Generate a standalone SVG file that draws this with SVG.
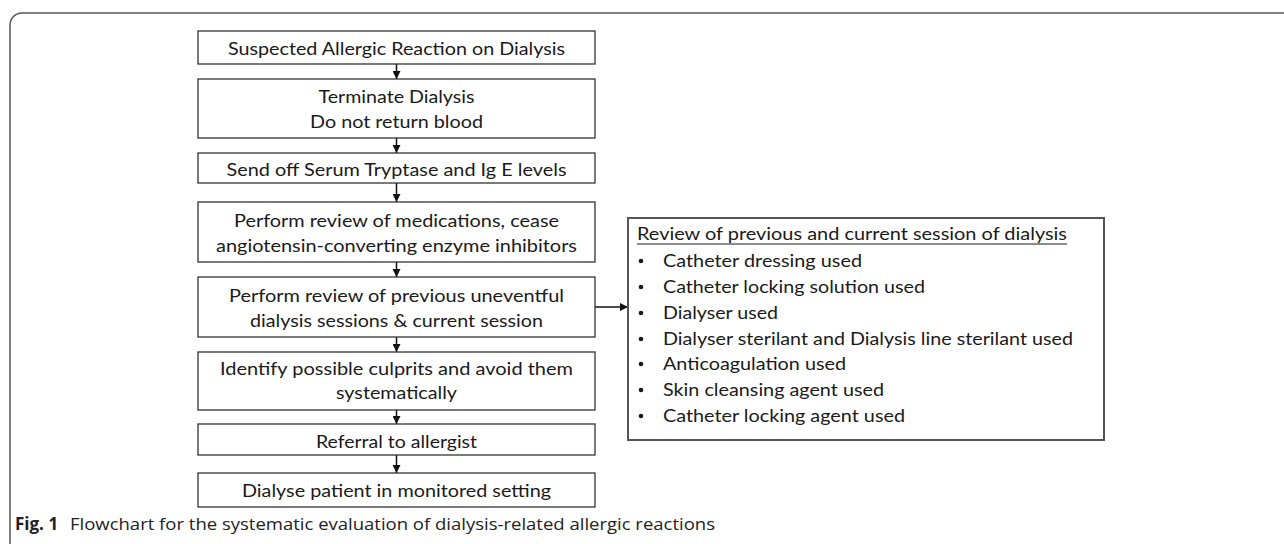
<svg xmlns="http://www.w3.org/2000/svg" width="1284" height="544" viewBox="0 0 1284 544">
<defs>
<marker id="ah" viewBox="0 0 8 8" refX="8" refY="4" markerWidth="8" markerHeight="8" markerUnits="userSpaceOnUse" orient="auto">
<path d="M0,0 L8,4 L0,8 z" fill="#111"/>
</marker>
<style>
.box{fill:#fff;stroke:#333;stroke-width:1.3}
.rbox{fill:#fff;stroke:#555;stroke-width:2}
.t{font-family:Lato,"Open Sans","Liberation Sans",sans-serif;font-size:18px;fill:#1a1a1a;text-anchor:middle}
.l{font-family:Lato,"Open Sans","Liberation Sans",sans-serif;font-size:18px;fill:#1a1a1a}
.c{stroke:#111;stroke-width:1.5;fill:none}
.cap{font-family:"Open Sans","Liberation Sans",sans-serif;font-size:17px;fill:#222}
</style>
</defs>
<rect x="0" y="0" width="1284" height="544" fill="#fff"/>
<path d="M1284,13 H22 A12,12 0 0 0 10,25 V544" fill="none" stroke="#555" stroke-width="1.5"/>

<g id="connectors">
<line class="c" x1="396.5" y1="64" x2="396.5" y2="79" marker-end="url(#ah)"/>
<line class="c" x1="396.5" y1="138" x2="396.5" y2="153" marker-end="url(#ah)"/>
<line class="c" x1="396.5" y1="183" x2="396.5" y2="202" marker-end="url(#ah)"/>
<line class="c" x1="396.5" y1="262" x2="396.5" y2="277" marker-end="url(#ah)"/>
<line class="c" x1="396.5" y1="337" x2="396.5" y2="352" marker-end="url(#ah)"/>
<line class="c" x1="396.5" y1="410" x2="396.5" y2="424" marker-end="url(#ah)"/>
<line class="c" x1="396.5" y1="455" x2="396.5" y2="473" marker-end="url(#ah)"/>
<line class="c" x1="595" y1="307" x2="628" y2="307" marker-end="url(#ah)"/>
</g>

<g id="n1"><rect class="box" x="198" y="31" width="397" height="33"/>
<text class="t" x="396.5" y="54.5" textLength="337" lengthAdjust="spacingAndGlyphs">Suspected Allergic Reaction on Dialysis</text></g>

<g id="n2"><rect class="box" x="198" y="79" width="397" height="59"/>
<text class="t" x="396.5" y="102.5" textLength="156" lengthAdjust="spacingAndGlyphs">Terminate Dialysis</text>
<text class="t" x="396.5" y="128" textLength="173" lengthAdjust="spacingAndGlyphs">Do not return blood</text></g>

<g id="n3"><rect class="box" x="198" y="153" width="397" height="30"/>
<text class="t" x="396.5" y="175.5" textLength="340" lengthAdjust="spacingAndGlyphs">Send off Serum Tryptase and Ig E levels</text></g>

<g id="n4"><rect class="box" x="198" y="202" width="397" height="60"/>
<text class="t" x="396.5" y="227" textLength="325" lengthAdjust="spacingAndGlyphs">Perform review of medications, cease</text>
<text class="t" x="396.5" y="252" textLength="361" lengthAdjust="spacingAndGlyphs">angiotensin-converting enzyme inhibitors</text></g>

<g id="n5"><rect class="box" x="198" y="277" width="397" height="60"/>
<text class="t" x="396.5" y="302" textLength="335" lengthAdjust="spacingAndGlyphs">Perform review of previous uneventful</text>
<text class="t" x="396.5" y="327" textLength="293" lengthAdjust="spacingAndGlyphs">dialysis sessions &amp; current session</text></g>

<g id="n6"><rect class="box" x="198" y="352" width="397" height="58"/>
<text class="t" x="396.5" y="375" textLength="353" lengthAdjust="spacingAndGlyphs">Identify possible culprits and avoid them</text>
<text class="t" x="396.5" y="399" textLength="121" lengthAdjust="spacingAndGlyphs">systematically</text></g>

<g id="n7"><rect class="box" x="198" y="424" width="397" height="31"/>
<text class="t" x="396.5" y="447.5" textLength="161" lengthAdjust="spacingAndGlyphs">Referral to allergist</text></g>

<g id="n8"><rect class="box" x="198" y="473" width="397" height="34"/>
<text class="t" x="396.5" y="497" textLength="309" lengthAdjust="spacingAndGlyphs">Dialyse patient in monitored setting</text></g>

<g id="n9"><rect class="rbox" x="628" y="218" width="476" height="222"/>
<text class="l" x="637" y="240" textLength="430" lengthAdjust="spacingAndGlyphs">Review of previous and current session of dialysis</text>
<line x1="637" y1="244" x2="1067" y2="244" stroke="#1a1a1a" stroke-width="1.2"/>
<circle cx="641" cy="261" r="2.3" fill="#1a1a1a"/><text class="l" x="663" y="267" textLength="199" lengthAdjust="spacingAndGlyphs">Catheter dressing used</text>
<circle cx="641" cy="287" r="2.3" fill="#1a1a1a"/><text class="l" x="663" y="293" textLength="262" lengthAdjust="spacingAndGlyphs">Catheter locking solution used</text>
<circle cx="641" cy="313" r="2.3" fill="#1a1a1a"/><text class="l" x="663" y="319" textLength="115" lengthAdjust="spacingAndGlyphs">Dialyser used</text>
<circle cx="641" cy="339" r="2.3" fill="#1a1a1a"/><text class="l" x="663" y="345" textLength="410" lengthAdjust="spacingAndGlyphs">Dialyser sterilant and Dialysis line sterilant used</text>
<circle cx="641" cy="364" r="2.3" fill="#1a1a1a"/><text class="l" x="663" y="370" textLength="183" lengthAdjust="spacingAndGlyphs">Anticoagulation used</text>
<circle cx="641" cy="390" r="2.3" fill="#1a1a1a"/><text class="l" x="663" y="396" textLength="221" lengthAdjust="spacingAndGlyphs">Skin cleansing agent used</text>
<circle cx="641" cy="416" r="2.3" fill="#1a1a1a"/><text class="l" x="663" y="422" textLength="242" lengthAdjust="spacingAndGlyphs">Catheter locking agent used</text>
</g>

<g id="caption">
<text class="cap" x="15" y="530" font-weight="bold">Fig. 1</text>
<text class="cap" x="70" y="530" textLength="645" lengthAdjust="spacingAndGlyphs">Flowchart for the systematic evaluation of dialysis-related allergic reactions</text>
</g>
</svg>
